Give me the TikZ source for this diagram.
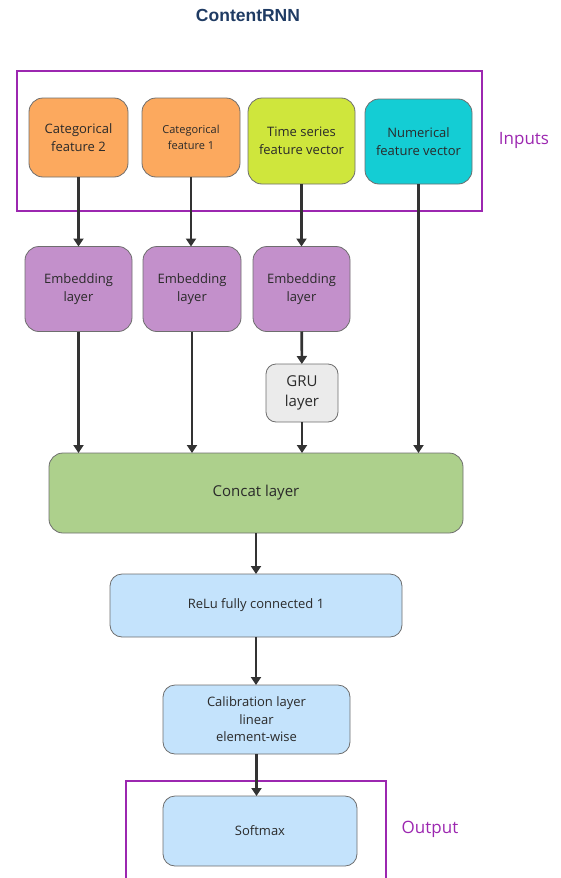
\documentclass[tikz,border=0pt]{standalone}
\usepackage{fontspec}
\setmainfont{Open Sans}
\newfontfamily\titlefont{Liberation Sans}
\usetikzlibrary{arrows.meta}
\usetikzlibrary{positioning}
\definecolor{edgeColor}{HTML}{333333}
\definecolor{textColor}{HTML}{2A2A2A}
\definecolor{frameColor}{HTML}{9C27B0}
\definecolor{titleColor}{HTML}{1F3B63}
\definecolor{borderColor}{HTML}{6E6E6E}
\definecolor{catColor}{HTML}{FCA95E}
\definecolor{tsColor}{HTML}{CFE63C}
\definecolor{numColor}{HTML}{14CDD4}
\definecolor{embColor}{HTML}{C390CB}
\definecolor{gruColor}{HTML}{EBEBEB}
\definecolor{concatColor}{HTML}{ADD08C}
\definecolor{denseColor}{HTML}{C4E3FC}
\tikzset{
  mybox/.style={draw=borderColor, line width=0.8pt, rounded corners=14pt, inner sep=0pt, outer sep=0pt,
    align=center, text=textColor, font=\fontsize{13}{17.5}\selectfont},
  myedge/.style={color=edgeColor, line width=2.6pt, -{Triangle[length=8pt,width=10pt]}},
  myframe/.style={draw=frameColor, line width=1.4pt},
  mylabel/.style={text=frameColor, font=\fontsize{17}{20}\selectfont}
}
\begin{document}
\begin{tikzpicture}[x=1pt, y=-1pt]
\useasboundingbox (0,0) rectangle (561,878);

\node[font=\titlefont\bfseries\fontsize{17.5}{20}\selectfont, text=titleColor] (title) at (248,15) {ContentRNN};

% inputs
\draw[myframe] (17,71) rectangle (482,211);
\node[mylabel] (inputs) at (524,140) {Inputs};
\node[mybox, fill=catColor, minimum width=99pt, minimum height=79pt] (cat2) at (78.5,137.5) {Categorical\\feature 2};
\node[mybox, fill=catColor, minimum width=98pt, minimum height=79pt, font=\fontsize{11}{15.5}\selectfont] (cat1) at (191,137.5) {Categorical\\feature 1};
\node[mybox, fill=tsColor, minimum width=107pt, minimum height=86pt] (ts) at (301.5,141) {Time series\\feature vector};
\node[mybox, fill=numColor, minimum width=107pt, minimum height=85pt] (num) at (418.5,141.5) {Numerical\\feature vector};

% embeddings and gru
\node[mybox, fill=embColor, minimum width=107pt, minimum height=85pt] (emb1) at (78.5,289) {Embedding\\layer};
\node[mybox, fill=embColor, minimum width=98pt, minimum height=85pt] (emb2) at (192,289) {Embedding\\layer};
\node[mybox, fill=embColor, minimum width=97pt, minimum height=85pt] (emb3) at (301.5,289) {Embedding\\layer};
\node[mybox, fill=gruColor, minimum width=72pt, minimum height=58pt, rounded corners=10pt, font=\fontsize{15}{20}\selectfont] (gru) at (302,393) {GRU\\layer};

% dense part
\node[mybox, fill=concatColor, minimum width=414pt, minimum height=80pt, font=\fontsize{15}{18}\selectfont] (concat) at (256,493) {Concat layer};
\node[mybox, fill=denseColor, minimum width=292pt, minimum height=63pt, rounded corners=12pt] (relu) at (256,605.5) {ReLu fully connected 1};
\node[mybox, fill=denseColor, minimum width=187pt, minimum height=69pt, rounded corners=12pt] (calib) at (256.5,719.5) {Calibration layer\\linear\\element-wise};

% output
\draw[myframe] (126,890) -- (126,781) -- (386,781) -- (386,890);
\node[mylabel] (output) at (430,829) {Output};
\node[mybox, fill=denseColor, minimum width=194pt, minimum height=70pt, rounded corners=12pt] (softmax) at (260,831) {Softmax};

\draw[myedge] (cat2) -- (emb1);
\draw[myedge] (cat1) -- (cat1 |- emb2.north);
\draw[myedge] (ts) -- (emb3);
\draw[myedge] (num) -- (num |- concat.north);
\draw[myedge] (emb1) -- (emb1 |- concat.north);
\draw[myedge] (emb2) -- (emb2 |- concat.north);
\draw[myedge] (emb3) -- (gru);
\draw[myedge] (gru) -- (gru |- concat.north);
\draw[myedge] (concat) -- (concat |- relu.north);
\draw[myedge] (relu) -- (relu |- calib.north);
\draw[myedge] (calib) -- (calib |- softmax.north);
\end{tikzpicture}
\end{document}
